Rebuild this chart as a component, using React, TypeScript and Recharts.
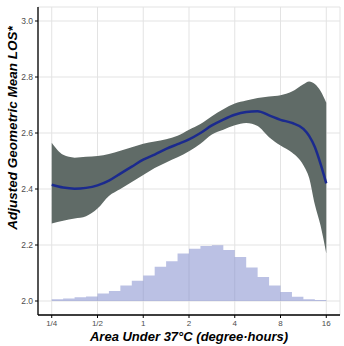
import React from "react";
import {
  ComposedChart,
  Area,
  Line,
  XAxis,
  YAxis,
  CartesianGrid,
} from "recharts";

// log2 of "Area under 37°C" (degree-hours)
const xTicks = [-2, -1, 0, 1, 2, 3, 4];
const xTickLabels = ["1/4", "1/2", "1", "2", "4", "8", "16"];
const yTicks = [2.0, 2.2, 2.4, 2.6, 2.8, 3.0];

// smooth fit + confidence band
const curveX = [-2, -1.75, -1.5, -1.25, -1, -0.75, -0.5, -0.25, 0, 0.25, 0.5, 0.75, 1, 1.25, 1.5, 1.75, 2, 2.25, 2.5, 2.75, 3, 3.25, 3.5, 3.625, 3.75, 3.875, 4];
const fitLine = [2.415, 2.405, 2.401, 2.404, 2.413, 2.43, 2.455, 2.48, 2.505, 2.523, 2.543, 2.56, 2.577, 2.6, 2.627, 2.648, 2.665, 2.675, 2.678, 2.663, 2.647, 2.636, 2.615, 2.59, 2.55, 2.49, 2.42];
const bandLow = [2.277, 2.287, 2.295, 2.303, 2.33, 2.375, 2.4, 2.425, 2.45, 2.475, 2.495, 2.513, 2.535, 2.562, 2.595, 2.612, 2.628, 2.636, 2.625, 2.585, 2.555, 2.53, 2.485, 2.44, 2.345, 2.27, 2.17];
const bandHigh = [2.565, 2.522, 2.512, 2.515, 2.518, 2.525, 2.537, 2.549, 2.562, 2.57, 2.578, 2.59, 2.612, 2.632, 2.66, 2.685, 2.705, 2.716, 2.725, 2.73, 2.735, 2.748, 2.774, 2.784, 2.775, 2.75, 2.708];

// histogram bins (left edges, width 0.25 in log2), heights on the y scale
const histEdges = [-2, -1.75, -1.5, -1.25, -1, -0.75, -0.5, -0.25, 0, 0.25, 0.5, 0.75, 1, 1.25, 1.5, 1.75, 2, 2.25, 2.5, 2.75, 3, 3.25, 3.5, 3.75, 4];
const histTop = [2.006, 2.009, 2.013, 2.016, 2.027, 2.036, 2.055, 2.072, 2.091, 2.122, 2.142, 2.17, 2.187, 2.196, 2.199, 2.182, 2.157, 2.12, 2.086, 2.055, 2.032, 2.015, 2.006, 2.004, 2.004];

const allX = Array.from(new Set([...curveX, ...histEdges])).sort((a, b) => a - b);
const data = allX.map((x) => {
  const ci = curveX.indexOf(x);
  const hi = histEdges.indexOf(x);
  return {
    x,
    fit: ci >= 0 ? fitLine[ci] : null,
    band: ci >= 0 ? [bandLow[ci], bandHigh[ci]] : null,
    hist: hi >= 0 ? histTop[hi] : null,
  };
});

const FONT = "'Liberation Sans', Arial, Helvetica, sans-serif";

const XTitle = (props: any) => {
  const vb = props.viewBox || {};
  const cx = (vb.x ?? 0) + (vb.width ?? 0) / 2;
  return (
    <text x={cx} y={341} textAnchor="middle" fontFamily={FONT} fontSize={13} fontWeight="bold" fontStyle="italic" fill="#000">
      Area Under 37°C (degree·hours)
    </text>
  );
};

const YTitle = () => (
  <text
    x={12}
    y={128}
    textAnchor="middle"
    dominantBaseline="central"
    transform="rotate(-90, 12, 128)"
    fontFamily={FONT}
    fontSize={13.5}
    fontWeight="bold"
    fontStyle="italic"
    fill="#000"
  >
    Adjusted Geometric Mean LOS*
  </text>
);

export default function App() {
  return (
    <div style={{ position: "absolute", left: 0, top: 0, background: "#fff" }}>
      <ComposedChart
        width={344}
        height={346}
        data={data}
        margin={{ top: 7, right: 4, left: 0, bottom: 0 }}
      >
        <CartesianGrid stroke="#e3e3e3" strokeWidth={1} />
        <XAxis
          type="number"
          dataKey="x"
          domain={[-2.3, 4.3]}
          ticks={xTicks}
          allowDataOverflow
          tickFormatter={(v: number) => xTickLabels[xTicks.indexOf(v)] ?? ""}
          height={31}
          axisLine={{ stroke: "#000", strokeWidth: 1.3 }}
          tickLine={{ stroke: "#000" }}
          tickSize={3}
          tickMargin={2}
          tick={{ fontSize: 8, fill: "#4d4d4d", fontFamily: FONT }}
          label={<XTitle />}
        />
        <YAxis
          type="number"
          domain={[1.95, 3.05]}
          ticks={yTicks}
          allowDataOverflow
          tickFormatter={(v: number) => v.toFixed(1)}
          width={38}
          axisLine={{ stroke: "#000", strokeWidth: 1.3 }}
          tickLine={{ stroke: "#000" }}
          tickSize={3}
          tickMargin={2}
          tick={{ fontSize: 8.5, fill: "#4d4d4d", fontFamily: FONT }}
          label={<YTitle />}
        />
        <Area
          dataKey="hist"
          type="stepAfter"
          baseValue={2}
          fill="#7783c9"
          fillOpacity={0.5}
          stroke="none"
          connectNulls
          isAnimationActive={false}
          dot={false}
          activeDot={false}
        />
        <Area
          dataKey="band"
          type="monotone"
          fill="#606b67"
          fillOpacity={1}
          stroke="none"
          connectNulls
          isAnimationActive={false}
          dot={false}
          activeDot={false}
        />
        <Line
          dataKey="fit"
          type="monotone"
          stroke="#1b2a8e"
          strokeWidth={2.5}
          dot={false}
          activeDot={false}
          connectNulls
          isAnimationActive={false}
        />
      </ComposedChart>
    </div>
  );
}
